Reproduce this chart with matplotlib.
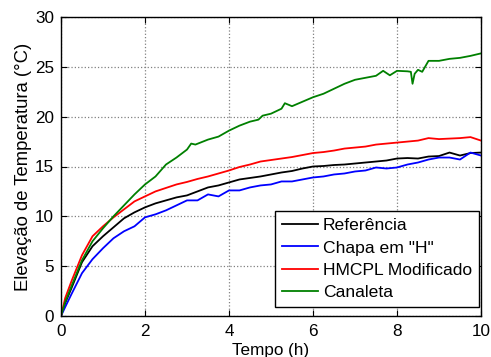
import matplotlib
matplotlib.use("Agg")
import matplotlib.pyplot as plt

plt.rcParams['font.family'] = ['Liberation Sans', 'DejaVu Sans']

t = [0, 0.1, 0.25, 0.5, 0.75, 1.0, 1.25, 1.5, 1.75, 2.0, 2.25, 2.5, 2.75, 3.0,
     3.25, 3.5, 3.75, 4.0, 4.25, 4.5, 4.75, 5.0, 5.25, 5.5, 5.75, 6.0, 6.25,
     6.5, 6.75, 7.0, 7.25, 7.5, 7.75, 8.0, 8.25, 8.5, 8.75, 9.0, 9.25, 9.5,
     9.75, 10.0]

referencia = [0, 1.3, 2.8, 5.4, 7.0, 8.0, 8.9, 9.8, 10.4, 10.9, 11.3, 11.6,
              11.9, 12.1, 12.5, 12.9, 13.1, 13.4, 13.7, 13.85, 14.0, 14.2,
              14.4, 14.55, 14.8, 15.0, 15.05, 15.15, 15.2, 15.3, 15.4, 15.5,
              15.6, 15.8, 15.85, 15.8, 16.0, 16.05, 16.4, 16.1, 16.35, 16.4]

chapa_h = [0, 0.9, 2.2, 4.3, 5.7, 6.8, 7.8, 8.5, 9.0, 9.9, 10.2, 10.6, 11.1,
           11.6, 11.6, 12.2, 12.0, 12.6, 12.6, 12.9, 13.1, 13.2, 13.5, 13.5,
           13.7, 13.9, 14.0, 14.2, 14.3, 14.5, 14.6, 14.9, 14.8, 14.9, 15.2,
           15.4, 15.7, 15.9, 15.9, 15.7, 16.4, 16.1]

hmcpl = [0, 1.8, 3.5, 6.1, 8.0, 9.0, 9.9, 10.7, 11.5, 12.0, 12.5, 12.85, 13.2,
         13.45, 13.75, 14.0, 14.3, 14.6, 14.95, 15.2, 15.5, 15.65, 15.8,
         15.95, 16.15, 16.35, 16.45, 16.6, 16.8, 16.9, 17.0, 17.2, 17.3, 17.4,
         17.5, 17.6, 17.85, 17.75, 17.8, 17.85, 17.95, 17.6]

t_canaleta = [0, 0.1, 0.25, 0.5, 0.75, 1.0, 1.25, 1.5, 1.75, 2.0, 2.25, 2.5,
              2.75, 3.0, 3.1, 3.2, 3.5, 3.75, 4.0, 4.25, 4.5, 4.7, 4.8, 5.0,
              5.25, 5.33, 5.5, 5.75, 6.0, 6.25, 6.5, 6.75, 7.0, 7.25, 7.5,
              7.67, 7.83, 8.0, 8.25, 8.33, 8.37, 8.42, 8.5, 8.6, 8.75, 9.0,
              9.25, 9.5, 9.75, 10.0]
canaleta = [0, 1.4, 3.0, 5.6, 7.5, 8.8, 10.0, 11.1, 12.2, 13.2, 14.0, 15.2,
            15.9, 16.7, 17.3, 17.2, 17.7, 18.0, 18.6, 19.1, 19.5, 19.7, 20.1,
            20.3, 20.8, 21.35, 21.05, 21.5, 21.95, 22.3, 22.8, 23.3, 23.7,
            23.9, 24.1, 24.6, 24.15, 24.6, 24.55, 24.5, 23.3, 24.3, 24.7,
            24.5, 25.6, 25.6, 25.8, 25.9, 26.1, 26.35]

labels = ['Referência', 'Chapa em "H"', 'HMCPL Modificado', 'Canaleta']
colors = ['#000000', '#0000ff', '#ff0000', '#008000']

fig = plt.figure(figsize=(4.91, 3.57), dpi=100)
ax = fig.add_axes([61/491, 1-316/357, 420/491, 299/357])

ax.plot(t, referencia, color=colors[0], lw=1.3, label=labels[0])
ax.plot(t, chapa_h, color=colors[1], lw=1.3, label=labels[1])
ax.plot(t, hmcpl, color=colors[2], lw=1.3, label=labels[2])
ax.plot(t_canaleta, canaleta, color=colors[3], lw=1.3, label=labels[3])

ax.set_xlim(0, 10)
ax.set_ylim(0, 30)
ax.set_xticks([0, 2, 4, 6, 8, 10])
ax.set_yticks([0, 5, 10, 15, 20, 25, 30])
ax.tick_params(direction='in', top=True, right=True, length=4, width=0.8,
               labelsize=12.3)
ax.tick_params(axis='y', pad=5)
ax.tick_params(axis='x', pad=6)
ax.grid(True, color='#808080', linestyle=':', linewidth=0.9)
for s in ax.spines.values():
    s.set_linewidth(1.0)

ax.set_xlabel('Tempo (h)', fontsize=12.3, labelpad=3)
ax.set_ylabel('Elevação de Temperatura (°C)', fontsize=13.3, labelpad=2)

leg = ax.legend(loc='lower right', bbox_to_anchor=(0.995, 0.03), fontsize=12.6,
                handlelength=2.1, handletextpad=0.25, borderaxespad=0,
                fancybox=False, framealpha=1, edgecolor='black',
                borderpad=0.4, labelspacing=0.4)
leg.get_frame().set_linewidth(1.0)

fig.savefig('out.png', dpi=100)
